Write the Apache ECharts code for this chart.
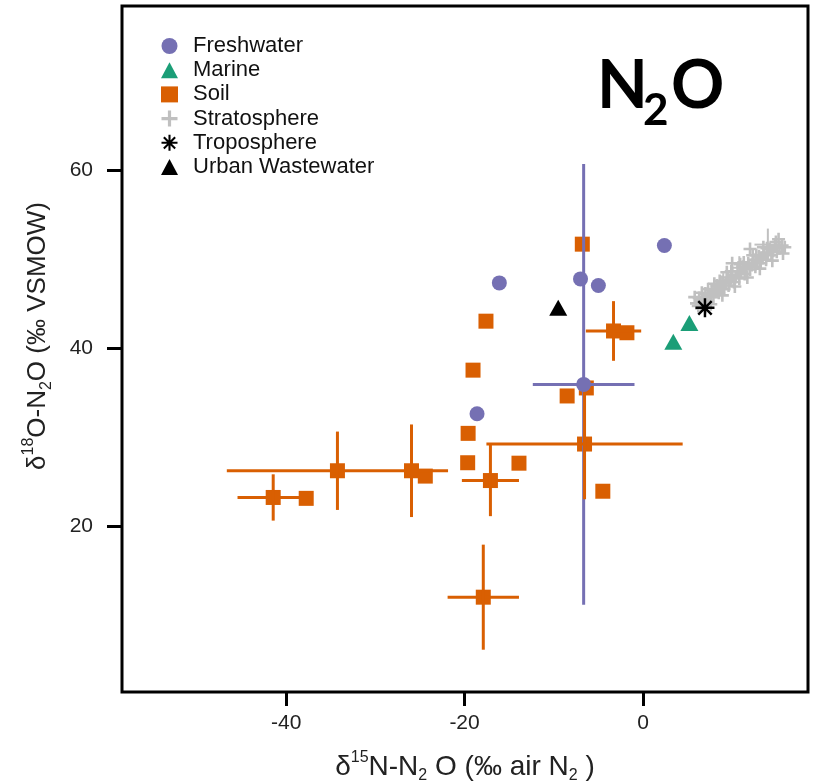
<!DOCTYPE html>
<html>
<head>
<meta charset="utf-8">
<script src="https://cdn.jsdelivr.net/npm/echarts@6/dist/echarts.min.js"></script>
<style>
html, body { margin: 0; padding: 0; background: #fff; }
#chart { width: 813px; height: 784px; }
</style>
</head>
<body>
<div id="chart"></div>
<script>
// x = d15N, y = d18O
var freshwater = [[2.4, 51.5], [-16.1, 47.3], [-7.0, 47.75], [-5.0, 47.0], [-6.65, 35.9], [-18.6, 32.6]];
var freshwaterErr = [[-6.65, 35.9, 5.7, 24.75]]; // x, y, xerr, yerr

var marine = [[5.2, 42.8], [3.4, 40.7]];
var urban = [[-9.5, 44.5]];
var troposphere = [[6.95, 44.5]];

var soil = [
	[-6.8, 51.65], [-17.6, 43.0], [-3.3, 41.9], [-1.8, 41.7], [-19.05, 37.5],
	[-8.5, 34.6], [-6.35, 35.5], [-6.55, 29.2], [-19.6, 30.4], [-19.65, 27.1],
	[-13.9, 27.05], [-17.1, 25.1], [-4.5, 23.9], [-17.9, 12.0], [-24.4, 25.6],
	[-41.45, 23.2], [-37.75, 23.1], [-34.25, 26.2], [-25.95, 26.2]
];
var soilErr = [
	[-3.3, 41.9, 3.1, 3.35],
	[-6.55, 29.2, 11.0, 6.2],
	[-17.1, 25.1, 3.2, 4.0],
	[-17.9, 12.0, 4.0, 5.9],
	[-41.45, 23.2, 4.0, 2.6],
	[-34.25, 26.2, 12.4, 4.4],
	[-25.95, 26.2, 0, 5.2]
];

var stratosphere = [
	[6.0, 45.0], [6.3, 45.6], [6.5, 44.9], [6.8, 45.4], [7.0, 46.1], [7.2, 45.3], [7.5, 45.9],
	[7.7, 46.5], [7.9, 45.7], [8.1, 46.3], [8.3, 47.0], [8.5, 46.2], [8.7, 46.8], [8.9, 47.4],
	[9.1, 46.6], [9.3, 47.3], [9.5, 47.9], [9.6, 47.0], [9.8, 47.6], [10.0, 48.2], [10.2, 47.4],
	[10.4, 48.0], [10.6, 48.6], [10.8, 47.8], [11.0, 48.5], [11.2, 49.1], [11.4, 48.3], [11.6, 48.9],
	[11.8, 49.5], [12.0, 48.8], [12.2, 49.3], [12.4, 49.9], [12.6, 49.1], [12.8, 49.7], [13.0, 50.3],
	[13.2, 49.5], [13.4, 50.1], [13.6, 50.7], [13.8, 49.9], [14.0, 50.5], [14.2, 51.1], [14.4, 50.4],
	[14.6, 50.9], [14.8, 51.4], [15.0, 50.8], [15.3, 51.2], [15.6, 51.5], [15.9, 51.3], [6.2, 44.7],
	[7.3, 46.6], [8.6, 47.5], [9.9, 48.6], [11.3, 49.6], [12.7, 50.4], [13.9, 51.2], [14.9, 51.9],
	[6.6, 46.2], [7.6, 44.9], [8.0, 47.2], [8.9, 45.9], [9.4, 48.5], [10.3, 46.9], [10.9, 49.4],
	[11.7, 47.9], [12.3, 50.4], [13.1, 48.9], [13.5, 51.3], [14.5, 49.8], [15.2, 52.2], [15.7, 50.6],
	[5.8, 45.7], [7.0, 44.6], [12.0, 51.1], [10.0, 49.5]
];
var stratosphereErr = [[14.0, 51.6, 1.5, 1.8], [10.8, 49.0, 0.9, 1.3], [9.0, 47.3, 0, 1.1]];

var xTicks = [-40, -20, 0];
var yTicks = [20, 40, 60];

var plusPath = 'path://M8,0 L12,0 L12,8 L20,8 L20,12 L12,12 L12,20 L8,20 L8,12 L0,12 L0,8 L8,8 Z';
var starPath = 'path://M8.7,0 L11.3,0 L11.3,20 L8.7,20 Z M0,8.7 L20,8.7 L20,11.3 L0,11.3 Z ' +
	'M3.85,2.03 L17.97,16.15 L16.15,17.97 L2.03,3.85 Z M16.15,2.03 L17.97,3.85 L3.85,17.97 L2.03,16.15 Z';

function errRender(color, width) {
	return function(params, api) {
		var x = api.value(0), y = api.value(1), ex = api.value(2), ey = api.value(3);
		var kids = [];
		if(ex > 0) {
			var a = api.coord([x - ex, y]), b = api.coord([x + ex, y]);
			kids.push({type: 'line', shape: {x1: a[0], y1: a[1], x2: b[0], y2: b[1]}, style: {stroke: color, lineWidth: width}});
		}
		if(ey > 0) {
			var c = api.coord([x, y - ey]), d = api.coord([x, y + ey]);
			kids.push({type: 'line', shape: {x1: c[0], y1: c[1], x2: d[0], y2: d[1]}, style: {stroke: color, lineWidth: width}});
		}
		return {type: 'group', children: kids};
	};
}

var myChart = echarts.init(document.getElementById('chart'));

function richTitle(size) {
	return {
		n: {fontSize: size, lineHeight: 34, fill: '#222', fontFamily: 'Liberation Sans'},
		sup: {fontSize: 16, lineHeight: 34, verticalAlign: 'top', fill: '#222', fontFamily: 'Liberation Sans'},
		sub: {fontSize: 16, lineHeight: 34, verticalAlign: 'bottom', fill: '#222', fontFamily: 'Liberation Sans'}
	};
}

var option = {
	backgroundColor: '#fff',
	animation: false,
	textStyle: {fontFamily: 'Liberation Sans, Arial, sans-serif'},
	grid: {
		left: 122, right: 5, top: 6, bottom: 92,
		show: true, borderColor: '#000', borderWidth: 3
	},
	legend: {
		orient: 'vertical',
		left: 161, top: 35,
		padding: 0,
		itemWidth: 17, itemHeight: 16, itemGap: 2.2,
		textStyle: {fontSize: 22, color: '#111', lineHeight: 21, padding: [0, 0, 0, 10]},
		data: [
			{name: 'Freshwater', icon: 'circle'},
			{name: 'Marine', icon: 'triangle'},
			{name: 'Soil', icon: 'rect'},
			{name: 'Stratosphere', icon: plusPath},
			{name: 'Troposphere', icon: starPath},
			{name: 'Urban Wastewater', icon: 'triangle'}
		]
	},
	xAxis: {
		type: 'value', min: -58.4, max: 18.5,
		axisLine: {show: false, onZero: false},
		splitLine: {show: false},
		axisTick: {show: true, customValues: xTicks, length: 14, lineStyle: {color: '#000', width: 3}},
		axisLabel: {customValues: xTicks, fontSize: 21, color: '#222', margin: 21}
	},
	yAxis: {
		type: 'value', min: 1.35, max: 78.4,
		axisLine: {show: false, onZero: false},
		splitLine: {show: false},
		axisTick: {show: true, customValues: yTicks, length: 15, lineStyle: {color: '#000', width: 3}},
		axisLabel: {customValues: yTicks, fontSize: 21, color: '#222', margin: 29}
	},
	graphic: [
		{
			type: 'text', x: 465, y: 767,
			style: {
				text: '{n|δ}{sup|15}{n|N-N}{sub|2}{n| O (‰ air N}{sub|2}{n| )}',
				align: 'center', verticalAlign: 'middle', rich: richTitle(28)
			}
		},
		{
			type: 'text', x: 38, y: 336, rotation: Math.PI / 2,
			style: {
				text: '{n|δ}{sup|18}{n|O-N}{sub|2}{n|O (‰ VSMOW)}',
				align: 'center', verticalAlign: 'middle', rich: richTitle(26)
			}
		},
		{type: 'text', x: 597, y: 87, style: {text: 'N', fontSize: 66, fontWeight: 'bold', fontFamily: 'Lato', fill: '#000', align: 'left', verticalAlign: 'middle'}},
		{type: 'text', x: 643, y: 111, style: {text: '2', fontSize: 44, fontWeight: 'bold', fontFamily: 'Lato', fill: '#000', align: 'left', verticalAlign: 'middle'}},
		{type: 'text', x: 671, y: 87, style: {text: 'O', fontSize: 66, fontWeight: 'bold', fontFamily: 'Lato', fill: '#000', align: 'left', verticalAlign: 'middle'}}
	],
	series: [
		{
			name: 'Soil', type: 'scatter', data: soil, z: 2,
			symbol: 'rect', symbolSize: 15,
			itemStyle: {color: '#d95f02', opacity: 1}
		},
		{
			name: 'fwErr', type: 'custom', data: freshwaterErr, z: 3,
			encode: {x: 0, y: 1},
			renderItem: errRender('#7570b3', 3)
		},
		{
			name: 'soilErr', type: 'custom', data: soilErr, z: 4,
			encode: {x: 0, y: 1},
			renderItem: errRender('#d95f02', 3)
		},
		{
			name: 'Freshwater', type: 'scatter', data: freshwater, z: 5,
			symbol: 'circle', symbolSize: 15,
			itemStyle: {color: '#7570b3', opacity: 1}
		},
		{
			name: 'stratErr', type: 'custom', data: stratosphereErr, z: 5,
			encode: {x: 0, y: 1},
			renderItem: errRender('#c0c0c0', 2)
		},
		{
			name: 'Stratosphere', type: 'scatter', data: stratosphere, z: 5,
			symbol: plusPath, symbolSize: 13,
			itemStyle: {color: '#c0c0c0', opacity: 1}
		},
		{
			name: 'Marine', type: 'scatter', data: marine, z: 6,
			symbol: 'triangle', symbolSize: [18, 16],
			itemStyle: {color: '#1b9e77', opacity: 1}
		},
		{
			name: 'Troposphere', type: 'scatter', data: troposphere, z: 7,
			symbol: starPath, symbolSize: 19,
			itemStyle: {color: '#000', opacity: 1}
		},
		{
			name: 'Urban Wastewater', type: 'scatter', data: urban, z: 7,
			symbol: 'triangle', symbolSize: [18, 16],
			itemStyle: {color: '#000', opacity: 1}
		}
	]
};

myChart.setOption(option);
</script>
</body>
</html>
